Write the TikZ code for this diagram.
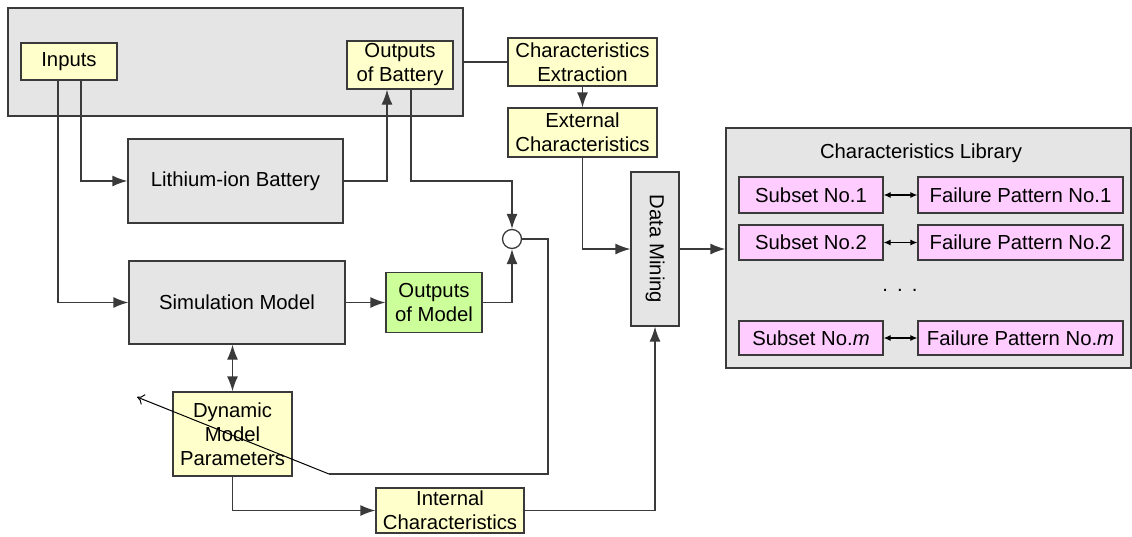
\documentclass[tikz,border=0pt]{standalone}
\usepackage{fontspec}
\setmainfont{Liberation Sans}
\usetikzlibrary{arrows.meta,calc}
\definecolor{boxgray}{HTML}{E5E5E5}
\definecolor{boxyellow}{HTML}{FFFFCC}
\definecolor{boxgreen}{HTML}{CCFF99}
\definecolor{boxpink}{HTML}{FFCCFF}
\definecolor{edge}{HTML}{3A3A3A}
\tikzset{
  base/.style={draw=edge, line width=1.3pt, inner sep=0pt, align=center,
    font=\fontsize{20.3}{24}\selectfont},
  graybox/.style={base, fill=boxgray},
  yelbox/.style={base, fill=boxyellow},
  grnbox/.style={base, fill=boxgreen},
  pinkbox/.style={base, fill=boxpink},
  conn/.style={draw=edge, line width=1.3pt},
  arr/.style={conn, -{Latex[length=15pt,width=11pt]}},
  darr/.style={conn, {Latex[length=15pt,width=11pt]}-{Latex[length=15pt,width=11pt]}},
  smarr/.style={draw=black, line width=1.1pt, {Latex[length=7pt,width=6pt]}-{Latex[length=7pt,width=6pt]}},
}
\begin{document}
\begin{tikzpicture}[x=1pt,y=-1pt]
\useasboundingbox (0,0) rectangle (1132,536);

% top gray container
\node[graybox, minimum width=455pt, minimum height=108pt] (bigbox) at (235.5,62) {};
\node[yelbox, minimum width=96pt, minimum height=37pt] (inputs) at (69,61.5) {Inputs};
\node[yelbox, minimum width=106pt, minimum height=48pt] (ob) at (400,65) {Outputs\\of Battery};

\node[yelbox, minimum width=149pt, minimum height=48pt] (ce) at (582.5,62) {Characteristics\\Extraction};
\node[yelbox, minimum width=149pt, minimum height=49pt] (ec) at (582.5,132.5) {External\\Characteristics};

\node[graybox, minimum width=215pt, minimum height=84pt] (lb) at (235.5,181) {Lithium-ion Battery};
\node[graybox, minimum width=216pt, minimum height=83pt] (sm) at (237,302.5) {Simulation Model};
\node[grnbox, minimum width=96pt, minimum height=60pt] (om) at (434,302.5) {Outputs\\of Model};
\node[draw=edge, line width=1.3pt, fill=white, circle, minimum size=19pt, inner sep=0pt] (sum) at (512,239) {};

\node[yelbox, minimum width=119pt, minimum height=84pt] (dmp) at (232.5,434) {Dynamic\\Model\\Parameters};
\node[yelbox, minimum width=148pt, minimum height=45pt] (ic) at (450,510.5) {Internal\\Characteristics};

\node[graybox, minimum width=154pt, minimum height=48pt, rotate=-90] (dm) at (655,249) {Data Mining};

% library
\node[graybox, minimum width=405pt, minimum height=240pt] (lib) at (928.5,248) {};
\node[font=\fontsize{20.3}{24}\selectfont, inner sep=0pt] (libtitle) at (921,153) {Characteristics Library};
\node[pinkbox, minimum width=144pt, minimum height=36pt] (s1) at (811,195) {Subset No.1};
\node[pinkbox, minimum width=205pt, minimum height=36pt] (f1) at (1020.5,195) {Failure Pattern No.1};
\node[pinkbox, minimum width=144pt, minimum height=35pt] (s2) at (811,242.5) {Subset No.2};
\node[pinkbox, minimum width=205pt, minimum height=35pt] (f2) at (1020.5,242.5) {Failure Pattern No.2};
\node[font=\fontsize{20.3}{24}\selectfont, inner sep=0pt] (dots) at (900,290) {.\hspace{0.45em}.\hspace{0.45em}.};
\node[pinkbox, minimum width=144pt, minimum height=34pt] (smm) at (811,338) {Subset No.\textit{m}};
\node[pinkbox, minimum width=205pt, minimum height=34pt] (fm) at (1020.5,338) {Failure Pattern No.\textit{m}};

\draw[smarr] (s1.east) -- (f1.west);
\draw[smarr] (s2.east) -- (f2.west);
\draw[smarr] (smm.east) -- (fm.west);

% connectors
\draw[conn] (bigbox.east) -- (ce.west);
\draw[arr] (ce.south) -- (ec.north);
\draw[arr] ([xshift=12pt]inputs.south) |- (lb.west);
\draw[arr] ([xshift=-11pt]inputs.south) |- (sm.west);
\draw[arr] (lb.east) -| ([xshift=-13pt]ob.south);
\draw[arr] ([xshift=11pt]ob.south) |- (sum.north |- lb.east) -- (sum.north);
\draw[arr] (sm.east) -- (om.west);
\draw[arr] (om.east) -| (sum.south);
\coordinate (fb) at (548,474);
\coordinate (fbc) at (329,474);
\coordinate (tip) at (137,397);
\draw[conn] (sum.east) -| (fb) -- (fbc);
\draw[line width=1pt, -{To[length=7pt,width=11pt]}] (fbc) -- (tip);
\draw[darr] (dmp.north |- sm.south) -- (dmp.north);
\draw[arr] (dmp.south) |- (ic.west);
\draw[arr] (ic.east) -| (dm.east);
\draw[arr] (ec.south) |- (dm.south);
\draw[arr] (dm.north) -- (dm.north -| lib.west);
\end{tikzpicture}
\end{document}
